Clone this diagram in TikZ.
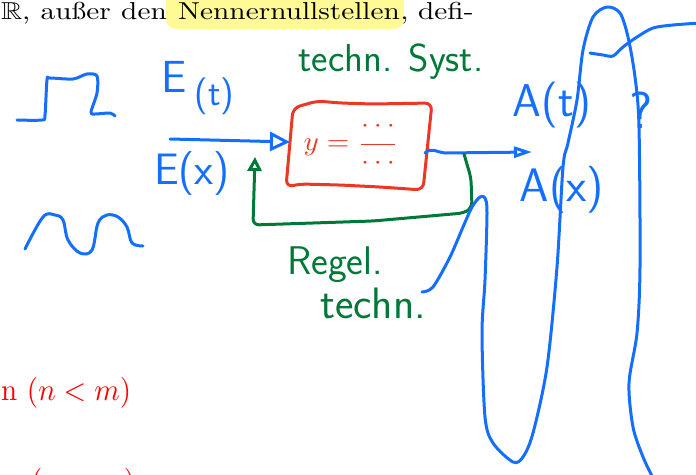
\documentclass[tikz,border=0pt]{standalone}
\usepackage{amsmath,amssymb,graphicx}
\usetikzlibrary{arrows.meta}
\definecolor{inkblue}{RGB}{20,110,255}
\definecolor{inkred}{RGB}{235,55,35}
\definecolor{inkgreen}{RGB}{0,120,55}
\definecolor{hlyellow}{RGB}{255,250,150}
% printed text of the notes, stretched like the screenshot
\newcommand{\druck}[1]{\scalebox{2.93}[2.45]{#1}}
\newcommand{\rotdruck}[1]{\scalebox{2.9}[3.1]{#1}}
\tikzset{
  ink/.style={line width=3pt, line cap=round, line join=round},
  print/.style={inner sep=0pt, font=\normalsize},
  hand/.style={inner sep=0pt, font=\sffamily},
  bigtip/.style={-{Triangle[open, length=20pt, width=19pt]}},
  smalltip/.style={-{Triangle[open, length=18pt, width=11pt]}},
  uptip/.style={-{Triangle[open, length=14pt, width=14pt]}},
}
\begin{document}
\begin{tikzpicture}[x=1pt, y=-1pt]
  \useasboundingbox (0,0) rectangle (696,474);
  \clip (0,0) rectangle (696,474);
  % printed lines of the notes
  \fill[hlyellow, rounded corners=10pt] (166,-12) rectangle (404,29);
  \node[print, anchor=base west] (nenner) at (178,19) {\druck{Nennernullstellen}};
  \node[print, anchor=base east] (den) at ([xshift=-11pt]nenner.base west) {\druck{den}};
  \node[print, anchor=base east] (ausser) at ([xshift=-10pt]den.base west) {\druck{außer}};
  \node[print, anchor=base east] (reell) at ([xshift=-10pt]ausser.base west) {\druck{$\mathbb{R}$,}};
  \node[print, anchor=base west] (defi) at (nenner.base east) {\druck{, defi-}};
  \node[print, text=red, anchor=base west] (bedingung) at (1,400) {\rotdruck{n $(n<m)$}};
  \node[print, text=red, anchor=base west] (klammer) at (31,491) {\rotdruck{$(\hphantom{n<m})$}};

  % input signals
  \draw[ink, inkblue] plot[smooth, tension=0.5] coordinates {(17,120) (42,120) (45,115) (47,80) (50,78) (73,79) (87,74) (97,76) (97,93) (91,112) (95,114) (110,113) (115,116)};
  \draw[ink, inkblue] plot[smooth, tension=0.6] coordinates {(25,249) (43,217) (55,215) (63,220) (68,240) (80,253) (92,250) (98,223) (107,215) (118,217) (127,227) (132,243) (143,246)};
  \node[hand, text=inkblue] (et) at (198,88) {\fontsize{45}{50}\selectfont E\,\raisebox{-13pt}{\fontsize{37}{40}\selectfont(t)}};
  \node[hand, text=inkblue] (ex) at (192,174) {\fontsize{44}{48}\selectfont E(x)};

  % the system
  \draw[ink, inkred, rounded corners=7pt] (293,108) -- (317,101) -- (340,103) -- (373,104) -- (432,103) -- (423,190) -- (380,187) -- (340,185) -- (300,184) -- (286,187) -- cycle;
  \node[text=inkred, inner sep=0pt] (formel) at (351,145) {\scalebox{2.9}[2.7]{$y=\dfrac{\cdots}{\cdots}$}};
  \node[hand, text=inkgreen] (syst) at (391,62) {\fontsize{39}{42}\selectfont techn. Syst.};

  % connectors
  \coordinate (ein) at (170,139);
  \coordinate (boxin) at (290,142);
  \coordinate (boxout) at (425,153);
  \coordinate (abzweig) at (464,154);
  \coordinate (aus) at (532,152);
  \coordinate (rueck) at (255,157);
  \draw[ink, inkblue, bigtip] (ein) -- (boxin);
  \draw[ink, inkblue, smalltip] (boxout) .. controls (431,147) and (436,152) .. (445,153) -- (aus);
  \draw[ink, inkgreen, uptip, rounded corners=6pt] (abzweig) -- (471,178) -- (472,208) -- (464,213) -- (373,221) -- (253,225) -- (rueck);

  % feedback label
  \node[hand, text=inkgreen] (regel) at (335,265) {\fontsize{40}{44}\selectfont Regel.};
  \node[hand, text=inkgreen] (regeltech) at (373,303) {\fontsize{44}{48}\selectfont techn.};

  % outputs
  \node[hand, text=inkblue] (at) at (552,105) {\fontsize{46}{50}\selectfont A(t)};
  \node[hand, text=inkblue] (frage) at (641,110) {\fontsize{52}{56}\selectfont ?};
  \node[hand, text=inkblue] (ax) at (562,190) {\fontsize{47}{50}\selectfont A(x)};

  % long loop on the right
  \draw[ink, inkblue] plot[smooth, tension=0.5] coordinates {(422,292) (433,287) (450,257) (463,227) (472,207) (480,197) (485,198) (487,213) (485,280) (482,333) (485,417) (493,443) (513,462) (523,457) (533,433) (547,367) (557,267) (563,167) (568,143) (577,100) (583,50) (593,17) (607,7) (620,13) (628,37) (635,77) (639,127) (640,267) (637,333) (629,383) (633,427) (643,457) (653,478)};
  \draw[ink, inkblue] plot[smooth, tension=0.5] coordinates {(590,53) (603,55) (613,56) (623,47) (637,37) (653,28) (673,25) (700,23)};
\end{tikzpicture}
\end{document}
